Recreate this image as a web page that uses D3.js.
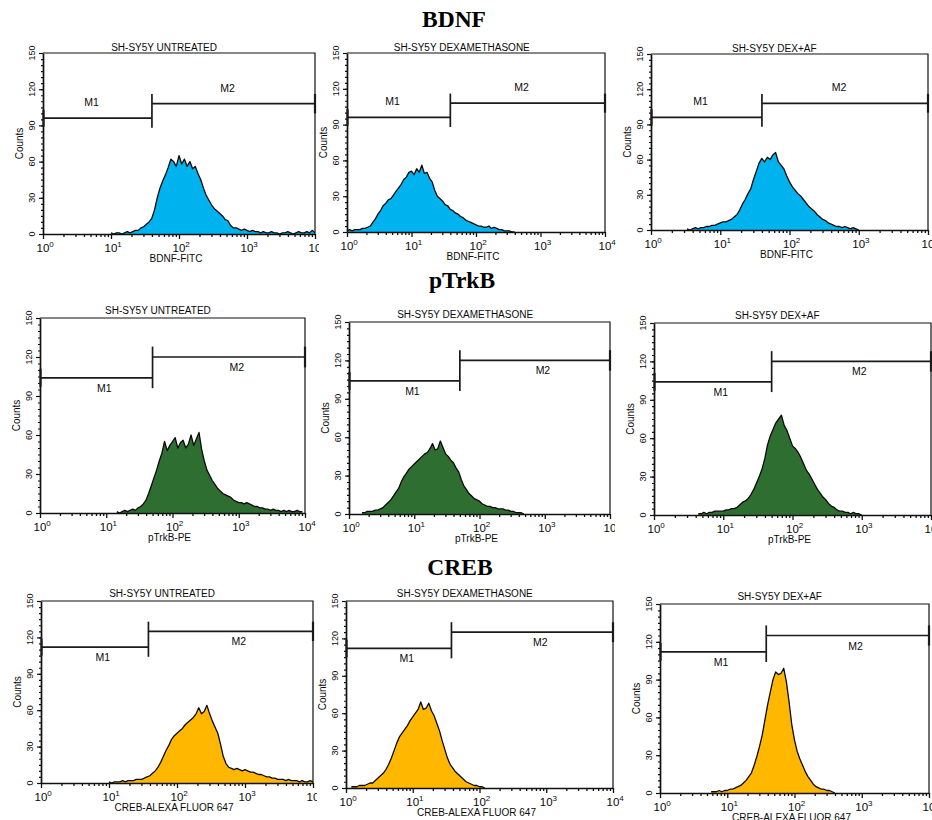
<!DOCTYPE html>
<html>
<head>
<meta charset="utf-8">
<script src="https://cdn.jsdelivr.net/npm/d3@7"></script>
<style>
  body { margin: 0; background: #fff; }
  svg { display: block; }
  text { font-family: "Liberation Sans", Arial, Helvetica, sans-serif; fill: #0a0a0a; }
  .big { font-family: "Liberation Serif", "Times New Roman", serif; font-weight: bold; fill: #000; }
</style>
</head>
<body>
<svg id="fig" width="932" height="820"></svg>
<script>
// ---- labels ----
const markerNames = ["BDNF", "pTrkB", "CREB"];
const conditions = ["SH-SY5Y UNTREATED", "SH-SY5Y DEXAMETHASONE", "SH-SY5Y DEX+AF"];
const channelLabels = ["BDNF-FITC", "pTrkB-PE", "CREB-ALEXA FLUOR 647"];
const yTickValues = [0, 30, 60, 90, 120, 150];
const xDecades = [0, 1, 2, 3, 4];

// ---- histogram counts (bins of 0.04 decade, starting at the listed log10 value) ----
const binStep = 0.04;
const histStarts = [[1.00, 0.00, 0.52], [1.16, 0.20, 0.64], [1.00, 0.08, 0.76]];

const bdnfUntreated = [1,0,1,1,0,1,2,1,2,3,3,5,6,8,10,13,20,30,38,44,49,55,62,60,56,65,58,62,56,60,54,56,50,45,38,32,28,24,21,19,17,15,12,11,7,5,5,4,3,4,3,2,3,2,2,1,2,1,1,2,1,1,0,1,1,2,1,0,1,2,1,1,2,1,3,1];
const bdnfDex = [1,2,1,2,2,2,3,3,4,5,8,11,15,18,22,24,27,28,31,34,37,40,44,46,50,51,48,53,50,56,49,50,45,42,35,30,28,26,23,22,19,18,16,15,13,12,10,9,8,7,6,5,5,4,4,5,3,4,3,2,2,1,1,1,0,0];
const bdnfDexAf = [1,0,1,2,1,2,2,3,3,4,4,5,6,7,7,8,9,11,13,17,22,26,31,35,43,50,57,61,58,62,60,64,66,58,55,52,46,41,37,34,31,29,26,23,20,18,16,13,11,9,8,6,5,4,3,3,2,3,2,1,2,1,0];

const trkbUntreated = [1,0,1,2,1,2,3,2,4,5,7,10,15,21,27,33,40,46,55,48,52,55,58,50,54,56,50,53,60,52,57,62,49,40,33,29,25,22,19,17,15,14,13,12,10,9,8,8,7,8,7,6,5,5,4,4,3,3,2,3,2,2,1,2,1,2,1,1,2,1,1];
const trkbDex = [1,1,2,2,2,3,3,4,5,7,9,11,14,17,20,25,29,32,35,37,39,41,43,45,47,48,51,55,50,51,57,52,47,45,42,40,36,33,27,22,19,16,14,12,11,10,8,7,6,6,5,5,4,4,4,3,3,2,2,1,1,1,0];
const trkbDexAf = [1,1,2,1,2,2,3,3,3,3,4,4,5,5,6,8,10,11,13,16,20,25,30,36,44,55,62,67,72,75,78,70,66,60,54,52,49,45,40,35,32,28,24,20,17,14,12,9,7,6,4,3,3,2,2,1,2,1,1,0];

const crebUntreated = [1,0,1,1,1,2,1,2,2,2,3,3,3,4,5,6,8,10,13,17,22,27,31,36,39,41,43,45,48,50,52,54,57,62,57,59,64,57,51,46,41,32,22,16,13,12,11,12,11,10,11,10,9,9,8,7,7,6,5,5,4,4,3,3,3,2,3,2,2,2,1,2,1,1,2,1];
const crebDex = [1,1,1,2,2,2,3,4,4,6,8,10,12,15,19,24,30,36,41,44,47,50,54,57,60,63,69,63,64,68,62,58,52,46,38,31,24,19,16,13,11,9,7,5,4,3,2,2,1,1,0];
const crebDexAf = [1,1,1,2,1,2,2,3,3,4,5,6,8,10,13,16,22,29,37,46,58,70,80,90,96,94,95,99,88,72,54,42,33,27,22,17,13,10,7,5,4,3,3,2,2,1,0];

const histograms = [
  [bdnfUntreated, bdnfDex, bdnfDexAf],
  [trkbUntreated, trkbDex, trkbDexAf],
  [crebUntreated, crebDex, crebDexAf]
];

// ---- marker gates per stain: M1/M2 boundary (fluorescence) and bar heights (counts) ----
const gateSplit = [40, 50, 38];
const gateM1 = [96, 104, 112];
const gateM2 = [108, 120, 125];

// ---- styling / layout ----
const fills = ["#00b3ef", "#2f6e31", "#ffb700"];
const labelAbove = [true, false, false];
const labelShift = [-6, 8, 8];
const panelBoxes = [
  { l: 43,  r: 315, t: 53,  b: 234, clip: 319 },
  { l: 347, r: 605, t: 53,  b: 232, clip: 932 },
  { l: 651, r: 928, t: 54,  b: 230, clip: 940 },
  { l: 40,  r: 305, t: 318, b: 513, clip: 330 },
  { l: 349, r: 610, t: 322, b: 514, clip: 615 },
  { l: 654, r: 931, t: 323, b: 515, clip: 940 },
  { l: 41,  r: 313, t: 601, b: 783, clip: 317 },
  { l: 346, r: 613, t: 601, b: 788, clip: 640 },
  { l: 660, r: 929, t: 604, b: 793, clip: 940 }
];
const bigTitlePos = [{ x: 454, y: 27 }, { x: 462, y: 288 }, { x: 460, y: 575 }];

const svg = d3.select("#fig");
const defs = svg.append("defs");

// stain headings
markerNames.forEach((name, r) => {
  svg.append("text").attr("class", "big")
    .attr("x", bigTitlePos[r].x).attr("y", bigTitlePos[r].y)
    .attr("text-anchor", "middle").attr("font-size", 23.5)
    .text(name);
});

markerNames.forEach((_, r) => {
  conditions.forEach((cond, c) => {
    const idx = r * 3 + c;
    const box = panelBoxes[idx];
    const counts = histograms[r][c];
    const start = histStarts[r][c];

    defs.append("clipPath").attr("id", "clip" + idx)
      .append("rect")
      .attr("x", box.l - 45).attr("y", box.t - 25)
      .attr("width", box.clip - (box.l - 45)).attr("height", box.b - box.t + 60);

    const g = svg.append("g").attr("clip-path", `url(#clip${idx})`);

    const x = d3.scaleLog().domain([1, 1e4]).range([box.l, box.r]);
    const y = d3.scaleLinear().domain([0, 150]).range([box.b, box.t]);

    const pts = counts.map((v, k) => [Math.pow(10, start + k * binStep), v]);

    // histogram
    g.append("path").datum(pts)
      .attr("fill", fills[r])
      .attr("d", d3.area().x(d => x(d[0])).y0(y(0)).y1(d => y(d[1])));
    g.append("path").datum(pts)
      .attr("fill", "none").attr("stroke", "#0a0a0a").attr("stroke-width", 1.3)
      .attr("stroke-linejoin", "round")
      .attr("d", d3.line().x(d => x(d[0])).y(d => y(d[1])));

    // frame (top and right)
    g.append("path")
      .attr("d", `M${box.l},${box.t}H${box.r}V${box.b}`)
      .attr("fill", "none").attr("stroke", "#111").attr("stroke-width", 1.2);

    // x axis: decade ticks plus minor ticks
    const minor = [];
    for (let e = 0; e < 4; e++) for (let m = 2; m <= 9; m++) minor.push(m * Math.pow(10, e));
    const xa = g.append("g").attr("transform", `translate(0,${box.b})`);
    xa.call(d3.axisBottom(x).tickValues(xDecades.map(e => Math.pow(10, e)))
      .tickSize(5).tickSizeOuter(0).tickFormat(""));
    xa.append("g").call(d3.axisBottom(x).tickValues(minor).tickSize(3).tickSizeOuter(0).tickFormat(""))
      .select(".domain").remove();
    xa.selectAll("path.domain").attr("stroke-width", 1.7).attr("stroke", "#111");
    xa.selectAll("line").attr("stroke", "#111").attr("stroke-width", 1.3);

    xDecades.forEach(e => {
      const t = g.append("text").attr("x", x(Math.pow(10, e)) - 6.5).attr("y", box.b + 18)
        .attr("font-size", 11.5);
      t.append("tspan").text("10");
      t.append("tspan").attr("dy", -5).attr("font-size", 8).text(e);
    });

    g.append("text").attr("x", (box.l + box.r) / 2 - 3).attr("y", box.b + 28)
      .attr("text-anchor", "middle").attr("font-size", 10)
      .text(channelLabels[r]);

    // y axis
    const minorY = d3.range(0, 151, 5);
    const ya = g.append("g").attr("transform", `translate(${box.l},0)`);
    ya.call(d3.axisLeft(y).tickValues(yTickValues).tickSize(4).tickSizeOuter(0).tickFormat(""));
    ya.append("g").call(d3.axisLeft(y).tickValues(minorY).tickSize(2).tickSizeOuter(0).tickFormat(""))
      .select(".domain").remove();
    ya.selectAll("path.domain").attr("stroke-width", 1.7).attr("stroke", "#111");
    ya.selectAll("line").attr("stroke", "#111").attr("stroke-width", 1.2);

    yTickValues.forEach(v => {
      g.append("text")
        .attr("transform", `translate(${box.l - 11},${y(v)}) rotate(-90)`)
        .attr("text-anchor", "middle").attr("dy", "0.35em")
        .attr("font-size", 9).text(v);
    });
    g.append("text")
      .attr("transform", `translate(${box.l - 24},${(box.t + box.b) / 2}) rotate(-90)`)
      .attr("text-anchor", "middle").attr("dy", "0.35em")
      .attr("font-size", 10).text("Counts");

    // panel title
    g.append("text")
      .attr("x", box.l + (box.r - box.l) * 0.445)
      .attr("y", box.t - (r === 0 ? 2 : 4))
      .attr("text-anchor", "middle").attr("font-size", 10)
      .text(cond);

    // marker gates M1 / M2
    const xs = x(gateSplit[r]);
    const m1 = gateM1[r], m2 = gateM2[r];
    const gate = g.append("g").attr("stroke", "#1a1a1a").attr("stroke-width", 1.7).attr("fill", "none");
    gate.append("line").attr("x1", box.l).attr("x2", xs).attr("y1", y(m1)).attr("y2", y(m1));
    gate.append("line").attr("x1", xs).attr("x2", box.r).attr("y1", y(m2)).attr("y2", y(m2));
    gate.append("line").attr("x1", xs).attr("x2", xs).attr("y1", y(m1 - 8)).attr("y2", y(m2 + 8));
    gate.append("line").attr("x1", box.l + 0.5).attr("x2", box.l + 0.5).attr("y1", y(m1 - 7)).attr("y2", y(m1 + 7)).attr("stroke-width", 2.2);
    gate.append("line").attr("x1", box.r).attr("x2", box.r).attr("y1", y(m2 - 8)).attr("y2", y(m2 + 8)).attr("stroke-width", 2.2);

    const above = labelAbove[r];
    g.append("text")
      .attr("x", (box.l + xs) / 2 + labelShift[r]).attr("y", y(m1) + (above ? -12 : 14))
      .attr("text-anchor", "middle").attr("font-size", 10.5).text("M1");
    g.append("text")
      .attr("x", (xs + box.r) / 2 + labelShift[r]).attr("y", y(m2) + (above ? -12 : 14))
      .attr("text-anchor", "middle").attr("font-size", 10.5).text("M2");
  });
});
</script>
</body>
</html>
